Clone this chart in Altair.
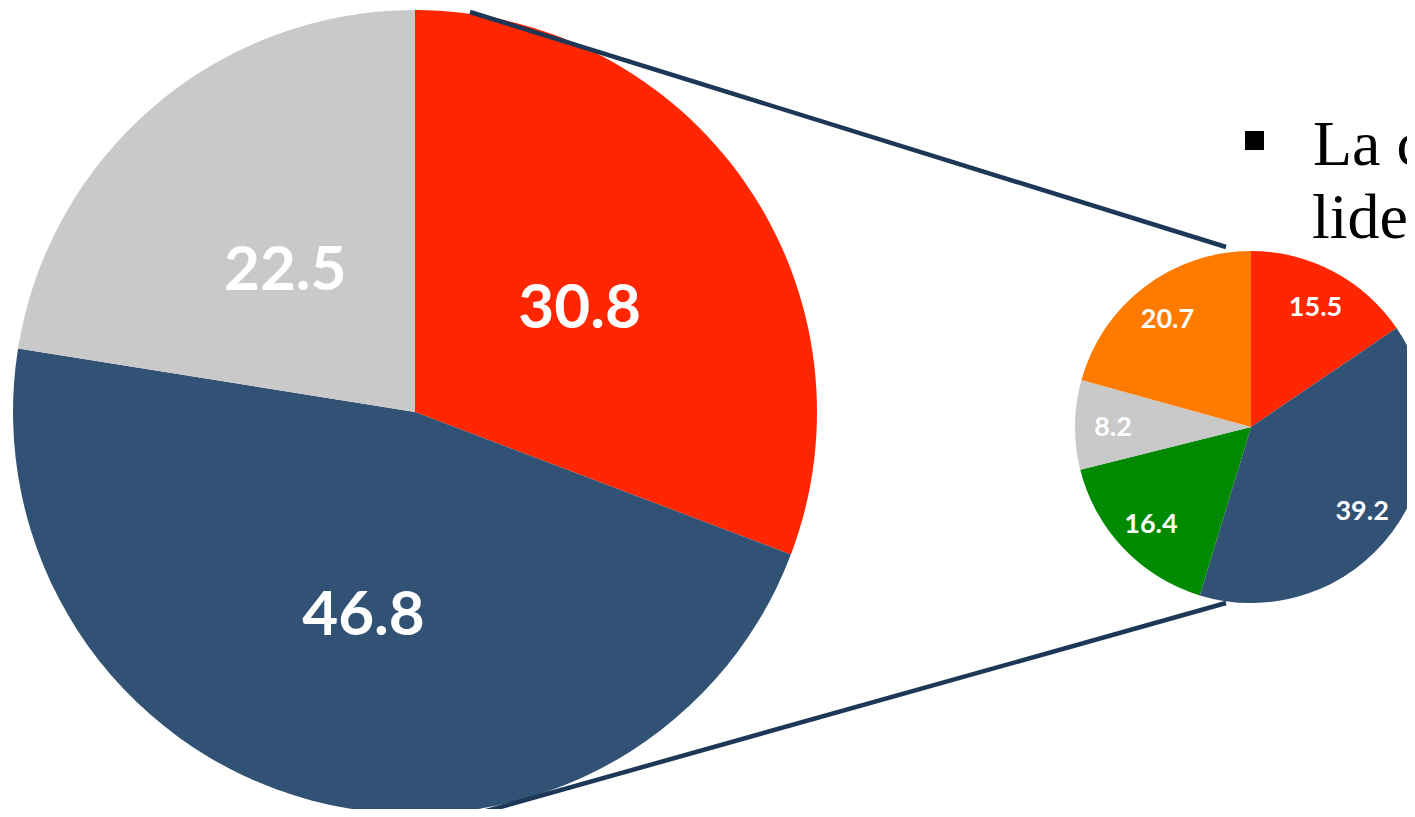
import altair as alt
import pandas as pd

# ---- data ----
big_cats = ["Rojo", "Azul", "Gris"]
big_vals = [30.8, 46.8, 22.5]
big_colors = ["#FF2600", "#315274", "#C9C9C9"]

small_cats = ["Rojo", "Azul", "Verde", "Gris", "Naranja"]
small_vals = [15.5, 39.2, 16.4, 8.2, 20.7]
small_colors = ["#FF2600", "#315274", "#008A00", "#C9C9C9", "#FF7B00"]

text_lines = ["La coalición", "liderazgo"]

big_df = pd.DataFrame({
    "cat": big_cats, "val": big_vals, "color": big_colors,
    "ord": list(range(len(big_vals))), "label": [f"{v:.1f}" for v in big_vals],
})
small_df = pd.DataFrame({
    "cat": small_cats, "val": small_vals, "color": small_colors,
    "ord": list(range(len(small_vals))), "label": [f"{v:.1f}" for v in small_vals],
})
one = pd.DataFrame({"a": [0]})

W, H = 1399, 801
BX, BY, BR = 407, 404, 402
SX, SY, SR = 1243, 419, 176

theta_big = alt.Theta("val:Q", stack=True)
theta_small = alt.Theta("val:Q", stack=True)

big_arc = alt.Chart(big_df).mark_arc(radius=BR).encode(
    theta=theta_big, order=alt.Order("ord:Q"),
    color=alt.Color("color:N", scale=None),
    x=alt.value(BX), y=alt.value(BY),
)
big_text = alt.Chart(big_df).mark_text(
    radius=200, dy=11, font="Lato", fontSize=62, fontWeight="bold", color="white"
).encode(
    theta=theta_big, order=alt.Order("ord:Q"), text="label:N",
    x=alt.value(BX), y=alt.value(BY),
)

small_arc = alt.Chart(small_df).mark_arc(radius=SR).encode(
    theta=theta_small, order=alt.Order("ord:Q"),
    color=alt.Color("color:N", scale=None),
    x=alt.value(SX), y=alt.value(SY),
)
small_text = alt.Chart(small_df).mark_text(
    radius=138, dy=3, font="Lato", fontSize=27, fontWeight="bold", color="white"
).encode(
    theta=theta_small, order=alt.Order("ord:Q"), text="label:N",
    x=alt.value(SX), y=alt.value(SY),
)

line_color = "#1D3857"
rule_top = alt.Chart(one).mark_rule(strokeWidth=4.5, color=line_color).encode(
    x=alt.value(462), y=alt.value(4), x2=alt.value(1218), y2=alt.value(239)
)
rule_bot = alt.Chart(one).mark_rule(strokeWidth=4.5, color=line_color).encode(
    x=alt.value(464), y=alt.value(807), x2=alt.value(1218), y2=alt.value(595)
)

bullet = alt.Chart(one).mark_square(size=361, color="black", filled=True, opacity=1).encode(
    x=alt.value(1246.5), y=alt.value(132.5)
)
line1 = alt.Chart(one).mark_text(
    text=text_lines[0], font="Liberation Serif", fontSize=64, align="left",
    baseline="alphabetic", color="black"
).encode(x=alt.value(1305), y=alt.value(157))
line2 = alt.Chart(one).mark_text(
    text=text_lines[1], font="Liberation Serif", fontSize=64, align="left",
    baseline="alphabetic", color="black"
).encode(x=alt.value(1304), y=alt.value(230))

chart = alt.layer(
    big_arc, big_text, small_arc, small_text, rule_top, rule_bot, bullet, line1, line2
).resolve_scale(theta="independent").properties(
    width=W, height=H, padding=0,
    autosize=alt.AutoSizeParams(type="none"),
).configure_view(stroke=None)

chart.save("out.html", embed_options={"renderer": "svg", "actions": False})
